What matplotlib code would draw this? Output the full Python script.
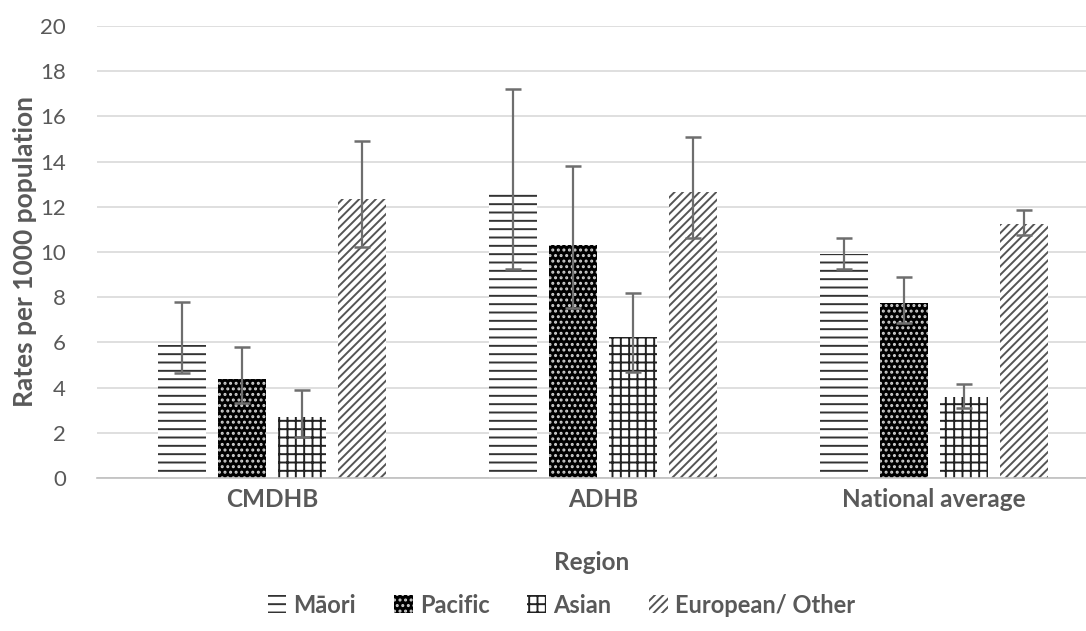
import matplotlib

matplotlib.use("Agg")

import matplotlib.pyplot as plt
import numpy as np

regions = ["CMDHB", "ADHB", "National average"]
groups = ["Māori", "Pacific", "Asian", "European/ Other"]

rates = {
    "Māori": [5.9, 12.6, 9.9],
    "Pacific": [4.4, 10.3, 7.75],
    "Asian": [2.7, 6.25, 3.6],
    "European/ Other": [12.35, 12.65, 11.25],
}
upper = {
    "Māori": [7.8, 17.2, 10.6],
    "Pacific": [5.8, 13.8, 8.9],
    "Asian": [3.9, 8.2, 4.15],
    "European/ Other": [14.9, 15.1, 11.85],
}
lower = {
    "Māori": [4.65, 9.25, 9.25],
    "Pacific": [3.3, 7.5, 6.85],
    "Asian": [1.8, 4.7, 3.1],
    "European/ Other": [10.2, 10.6, 10.75],
}

styles = {
    "Māori": dict(facecolor="white", edgecolor="#333333", hatch="--"),
    "Pacific": dict(facecolor="black", edgecolor="#d0d0d0", hatch="..."),
    "Asian": dict(facecolor="white", edgecolor="#222222", hatch="++"),
    "European/ Other": dict(facecolor="white", edgecolor="#555555", hatch="////"),
}

plt.rcParams["font.family"] = ["Lato", "DejaVu Sans"]
plt.rcParams["hatch.linewidth"] = 1.4
text_color = "#595959"

fig = plt.figure(figsize=(10.86, 6.31), dpi=100)
ax = fig.add_axes([0.089, 0.2425, 0.911, 0.7163])

x = np.arange(len(regions))
width = 0.145
step = 0.181
for i, g in enumerate(groups):
    pos = x + (i - 1.5) * step
    vals = np.array(rates[g])
    err = [vals - np.array(lower[g]), np.array(upper[g]) - vals]
    ax.bar(pos, vals, width, linewidth=0, label=g, zorder=2, **styles[g])
    ax.errorbar(pos, vals, yerr=err, fmt="none", ecolor="#6e6e6e",
                elinewidth=1.6, capsize=5.5, capthick=1.8, zorder=3)

ax.set_ylim(0, 20)
ax.set_yticks(range(0, 21, 2))
ax.set_xlim(-0.53, 2.46)
ax.set_xticks(x)
ax.set_xticklabels(regions, fontsize=17.5, fontweight="bold", color=text_color)
ax.tick_params(axis="y", labelsize=16, labelcolor=text_color, length=0, pad=22)
ax.tick_params(axis="x", length=0, pad=7)
ax.grid(axis="y", color="#d9d9d9", linewidth=1.2, zorder=0)
ax.set_axisbelow(True)
for side in ["top", "right", "left"]:
    ax.spines[side].set_visible(False)
ax.spines["bottom"].set_color("#bfbfbf")
ax.spines["bottom"].set_linewidth(1.2)

ax.set_ylabel("Rates per 1000 population", fontsize=19, fontweight="bold",
              color=text_color, labelpad=2)
ax.set_xlabel("Region", fontsize=17.5, fontweight="bold", color=text_color, labelpad=29)

leg = fig.legend(loc="center", bbox_to_anchor=(0.517, 0.041), ncol=4, frameon=False,
                 handlelength=0.8, handleheight=0.8, handletextpad=0.3,
                 columnspacing=1.6, prop={"size": 17, "weight": "bold"})
for t in leg.get_texts():
    t.set_color(text_color)

fig.savefig("out.png", dpi=100)
